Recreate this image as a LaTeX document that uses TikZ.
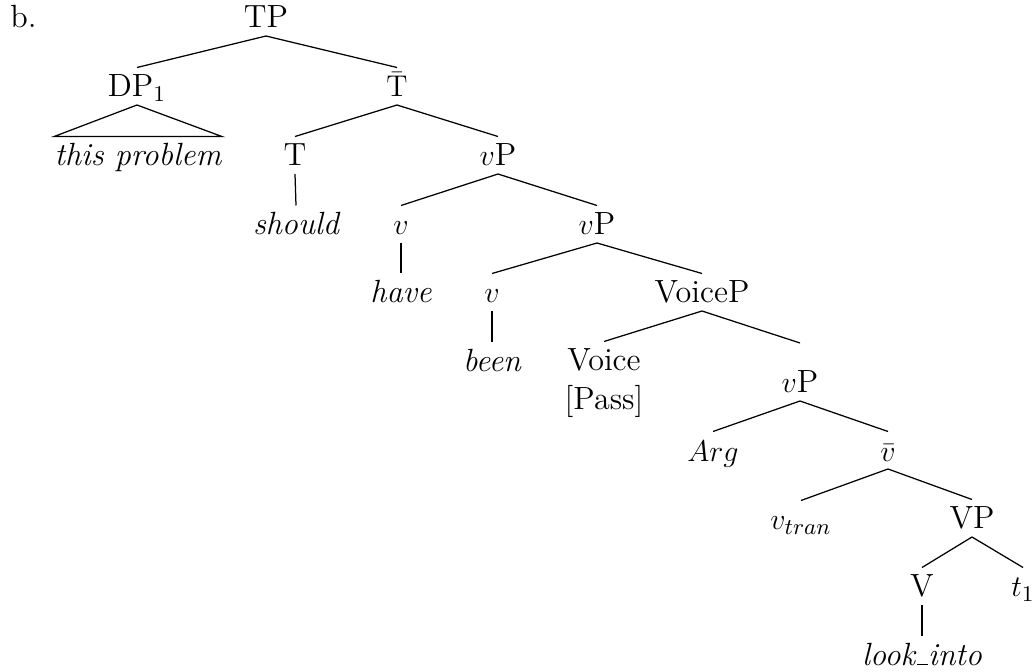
\documentclass[tikz,border=0pt]{standalone}
\newcommand{\undsc}{\leavevmode\kern.06em\vbox{\hrule width .33em}\kern.02em}
\begin{document}
\begin{tikzpicture}[x=0.4pt,y=-0.4pt,
  font=\fontsize{12.85}{15.5}\selectfont,
  lab/.style={anchor=base,inner sep=0pt,text height=11.6pt,text depth=3pt},
  edge/.style={line width=0.5pt}]
\useasboundingbox (0,0) rectangle (1034,672);
\node[anchor=base west,inner sep=0pt] (b) at (10,28) {b.};
\node[lab] (TP) at (266,28) {TP};
\node[lab] (DP) at (137,97) {DP$_1$};
\node[lab] (Tbar) at (397,97) {$\bar{\mathrm{T}}$};
\node[lab] (this) at (138,166) {\itshape this problem};
\node[lab] (T) at (295,166) {T};
\node[lab] (vP1) at (498,166) {$v$P};
\node[lab] (should) at (296,235) {\itshape should};
\node[lab] (v1) at (401,235) {$v$};
\node[lab] (vP2) at (597,235) {$v$P};
\node[lab] (have) at (401,303) {\itshape have};
\node[lab] (v2) at (492,303) {$v$};
\node[lab] (VoiceP) at (702,303) {VoiceP};
\node[lab] (been) at (492,372) {\itshape been};
\node[lab] (Voice) at (604,371) {\renewcommand{\arraystretch}{1.0}\begin{tabular}[t]{@{}c@{}}Voice\\ {[Pass]}\end{tabular}};
\coordinate (vP3top) at (800,343);
\node[lab] (vP3) at (800,393) {$v$P};
\node[lab] (Arg) at (713,461) {$Arg$};
\node[lab] (vbar) at (888,461) {$\bar{v}$};
\node[lab] (vtran) at (801,530) {$v_{tran}$};
\node[lab] (VP) at (972,529) {VP};
\node[lab] (V) at (922,597) {V};
\node[lab] (t1) at (1023,597) {$t_1$};
\node[lab] (look) at (922,665) {\itshape look\undsc into};
\begin{scope}[edge]
\draw (TP.south) -- (DP.north);
\draw (TP.south) -- (Tbar.north);
\draw (DP.south) -- (this.north west) -- (this.north east) -- cycle;
\draw (Tbar.south) -- (T.north);
\draw (Tbar.south) -- (vP1.north);
\draw (T.south) -- (should.north);
\draw (vP1.south) -- (v1.north);
\draw (vP1.south) -- (vP2.north);
\draw (v1.south) -- (have.north);
\draw (vP2.south) -- (v2.north);
\draw (vP2.south) -- (VoiceP.north);
\draw (v2.south) -- (been.north);
\draw (VoiceP.south) -- (Voice.north);
\draw (VoiceP.south) -- (vP3top);
\draw (vP3.south) -- (Arg.north);
\draw (vP3.south) -- (vbar.north);
\draw (vbar.south) -- (vtran.north);
\draw (vbar.south) -- (VP.north);
\draw (VP.south) -- (V.north);
\draw (VP.south) -- (t1.north);
\draw (V.south) -- (look.north);
\end{scope}
\end{tikzpicture}
\end{document}
